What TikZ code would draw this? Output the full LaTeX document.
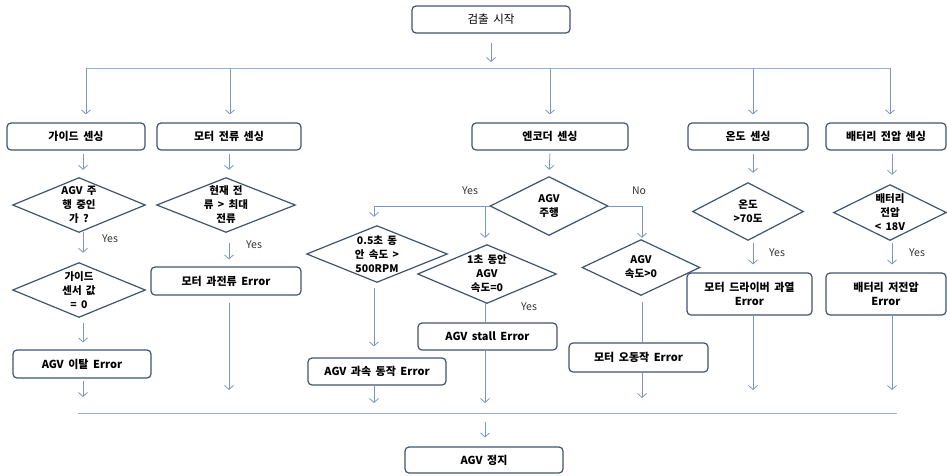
\documentclass[tikz,border=0pt]{standalone}
\usepackage{fontspec}
\setmainfont{Noto Sans CJK KR}[WordSpace=1.8]
\usetikzlibrary{arrows.meta}
\definecolor{boxc}{RGB}{62,84,112}
\definecolor{linec}{RGB}{120,150,200}
\definecolor{busc}{RGB}{150,178,214}
\begin{document}
\begin{tikzpicture}[x=1pt,y=-1pt,
  box/.style={draw=boxc, line width=1.2pt, rounded corners=4pt, fill=white, align=center, inner sep=0pt,
    font=\bfseries\fontsize{11}{13.5}\selectfont},
  dia/.style={inner sep=0pt, align=center, font=\bfseries\fontsize{10.5}{14}\selectfont},
  dialine/.style={draw=boxc, line width=1.2pt},
  con/.style={draw=linec, line width=0.8pt},
  arr/.style={con, -{Straight Barb[length=4pt,width=9pt]}},
  bus/.style={draw=busc, line width=1pt},
  lab/.style={font=\fontsize{10.5}{12}\selectfont, text=black!80, inner sep=0pt}]
\useasboundingbox (0,0) rectangle (947,475);

% bus coordinates
\coordinate (tA) at (86,68);
\coordinate (tB) at (230,68);
\coordinate (tC) at (550,68);
\coordinate (tD) at (753,68);
\coordinate (tE) at (890,68);
\coordinate (bL) at (78,413);
\coordinate (bR) at (897,413);
\coordinate (bA) at (83,413);
\coordinate (bB) at (229,413);
\coordinate (bC1) at (374,413);
\coordinate (bC2) at (485,413);
\coordinate (bC3) at (642,413);
\coordinate (bD) at (753,413);
\coordinate (bE) at (892,413);

% boxes
\node[box, font=\fontsize{11.5}{13}\selectfont, minimum width=158pt, minimum height=27pt] (start) at (491,19.5) {검출 시작};
\node[box, minimum width=138pt, minimum height=27pt] (guide) at (76,136.5) {가이드 센싱};
\node[box, minimum width=144pt, minimum height=27pt] (motorcur) at (229,136.5) {모터 전류 센싱};
\node[box, minimum width=156pt, minimum height=27pt] (encoder) at (550,136.5) {엔코더 센싱};
\node[box, minimum width=120pt, minimum height=27pt] (temp) at (748,136.5) {온도 센싱};
\node[box, minimum width=120pt, minimum height=27pt] (batt) at (886,136.5) {배터리 전압 센싱};

% diamonds
\node[dia, minimum width=132pt, minimum height=54pt] (d1) at (79,205) {AGV 주\\행 중인\\가 ?};
\node[dia, minimum width=138pt, minimum height=54pt] (d2) at (226,205) {현재 전\\류 > 최대\\전류};
\node[dia, minimum width=132pt, minimum height=54pt] (d3) at (79,290) {가이드\\센서 값\\= 0};
\node[dia, minimum width=117pt, minimum height=58pt] (encD) at (549,206) {AGV\\주행};
\node[dia, minimum width=140pt, minimum height=56pt] (d05) at (377,254) {0.5초 동\\안 속도 >\\500RPM};
\node[dia, minimum width=138pt, minimum height=58pt] (d1s) at (487,274) {1초 동안\\AGV\\속도=0};
\node[dia, minimum width=117pt, minimum height=55pt] (dspd) at (641,267.5) {AGV\\속도>0};
\node[dia, minimum width=110pt, minimum height=57pt] (dtemp) at (748,211.5) {온도\\>70도};
\node[dia, minimum width=112pt, minimum height=55pt] (dbatt) at (890,212.5) {배터리\\전압\\< 18V};
\foreach \n in {d1,d2,d3,encD,d05,d1s,dspd,dtemp,dbatt}
  \draw[dialine] (\n.north) -- (\n.east) -- (\n.south) -- (\n.west) -- cycle;

% error boxes
\node[box, minimum width=138pt, minimum height=28pt] (guideErr) at (82,364) {AGV 이탈 Error};
\node[box, minimum width=150pt, minimum height=28pt] (curErr) at (226,281) {모터 과전류 Error};
\node[box, minimum width=138pt, minimum height=27pt] (overspd) at (377,371.5) {AGV 과속 동작 Error};
\node[box, minimum width=139pt, minimum height=27pt] (stall) at (487.5,336.5) {AGV stall Error};
\node[box, minimum width=139pt, minimum height=29pt] (misop) at (638.5,357.5) {모터 오동작 Error};
\node[box, minimum width=125pt, minimum height=42pt] (tempErr) at (749.5,294) {모터 드라이버 과열\\Error};
\node[box, minimum width=120pt, minimum height=42pt] (battErr) at (886,294) {배터리 저전압\\Error};
\node[box, minimum width=158pt, minimum height=26pt] (stop) at (484,460) {AGV 정지};

% buses
\draw[bus] (tA) -- (tE);
\draw[bus] (bL) -- (bR);

% start to bus, bus to sensing boxes
\draw[arr, shorten <=9pt, shorten >=6pt] (start.south) -- (start.south |- tA);
\foreach \c/\n in {tA/guide,tB/motorcur,tC/encoder,tD/temp,tE/batt}
  \draw[arr, shorten >=8pt] (\c) -- (\c |- \n.north);

% guide column
\draw[arr, shorten <=3pt, shorten >=8pt] (guide.south -| bA) -- (d1.north -| bA);
\draw[arr, shorten >=10pt] (d1.south -| bA) -- (d3.north -| bA);
\draw[arr, shorten <=6pt, shorten >=7pt] (d3.south -| bA) -- (guideErr.north -| bA);
\draw[arr, shorten <=2pt, shorten >=16pt] (guideErr.south -| bA) -- (bA);

% motor current column
\draw[arr, shorten <=3pt, shorten >=8pt] (motorcur.south -| bB) -- (d2.north -| bB);
\draw[arr, shorten <=11pt, shorten >=7pt] (d2.south -| bB) -- (curErr.north -| bB);
\draw[arr, shorten <=7pt, shorten >=23pt] (curErr.south -| bB) -- (bB);

% encoder column
\draw[arr, shorten <=3pt, shorten >=7pt] (encoder.south) -- (encD.north);
\draw[arr, shorten >=9pt] (encD.west) -| (d05.north -| bC1);
\draw[arr, shorten >=7pt] (encD.west -| bC2) -- (d1s.north -| bC2);
\draw[arr, shorten >=2pt] (encD.east) -| (dspd.north -| bC3);
\draw[arr, shorten <=6pt, shorten >=11pt] (d05.south -| bC1) -- (overspd.north -| bC1);
\draw[arr, shorten >=10pt] (overspd.south -| bC1) -- (bC1);
\draw[con] (d1s.south -| bC2) -- (stall.north -| bC2);
\draw[arr, shorten >=10pt] (stall.south -| bC2) -- (bC2);
\draw[con, shorten <=7pt] (dspd.south -| bC3) -- (misop.north -| bC3);
\draw[arr, shorten >=15pt] (misop.south -| bC3) -- (bC3);

% temperature column
\draw[arr, shorten <=3pt, shorten >=10pt] (temp.south -| bD) -- (dtemp.north -| bD);
\draw[arr, shorten <=3pt, shorten >=8pt] (dtemp.south -| bD) -- (tempErr.north -| bD);
\draw[arr, shorten >=23pt] (tempErr.south -| bD) -- (bD);

% battery column
\draw[arr, shorten <=3pt, shorten >=10pt] (batt.south -| bE) -- (dbatt.north -| bE);
\draw[arr, shorten <=3pt, shorten >=8pt] (dbatt.south -| bE) -- (battErr.north -| bE);
\draw[arr, shorten >=23pt] (battErr.south -| bE) -- (bE);

% to stop
\draw[arr, shorten <=9pt, shorten >=9pt] (bC2) -- (bC2 |- stop.north);

% labels
\node[lab] (y1) at (110,239) {Yes};
\node[lab] (y2) at (254,245) {Yes};
\node[lab] (y3) at (470,191) {Yes};
\node[lab] (n1) at (639,191) {No};
\node[lab] (y4) at (529,307) {Yes};
\node[lab] (y5) at (777,253) {Yes};
\node[lab] (y6) at (917,253) {Yes};
\end{tikzpicture}
\end{document}
